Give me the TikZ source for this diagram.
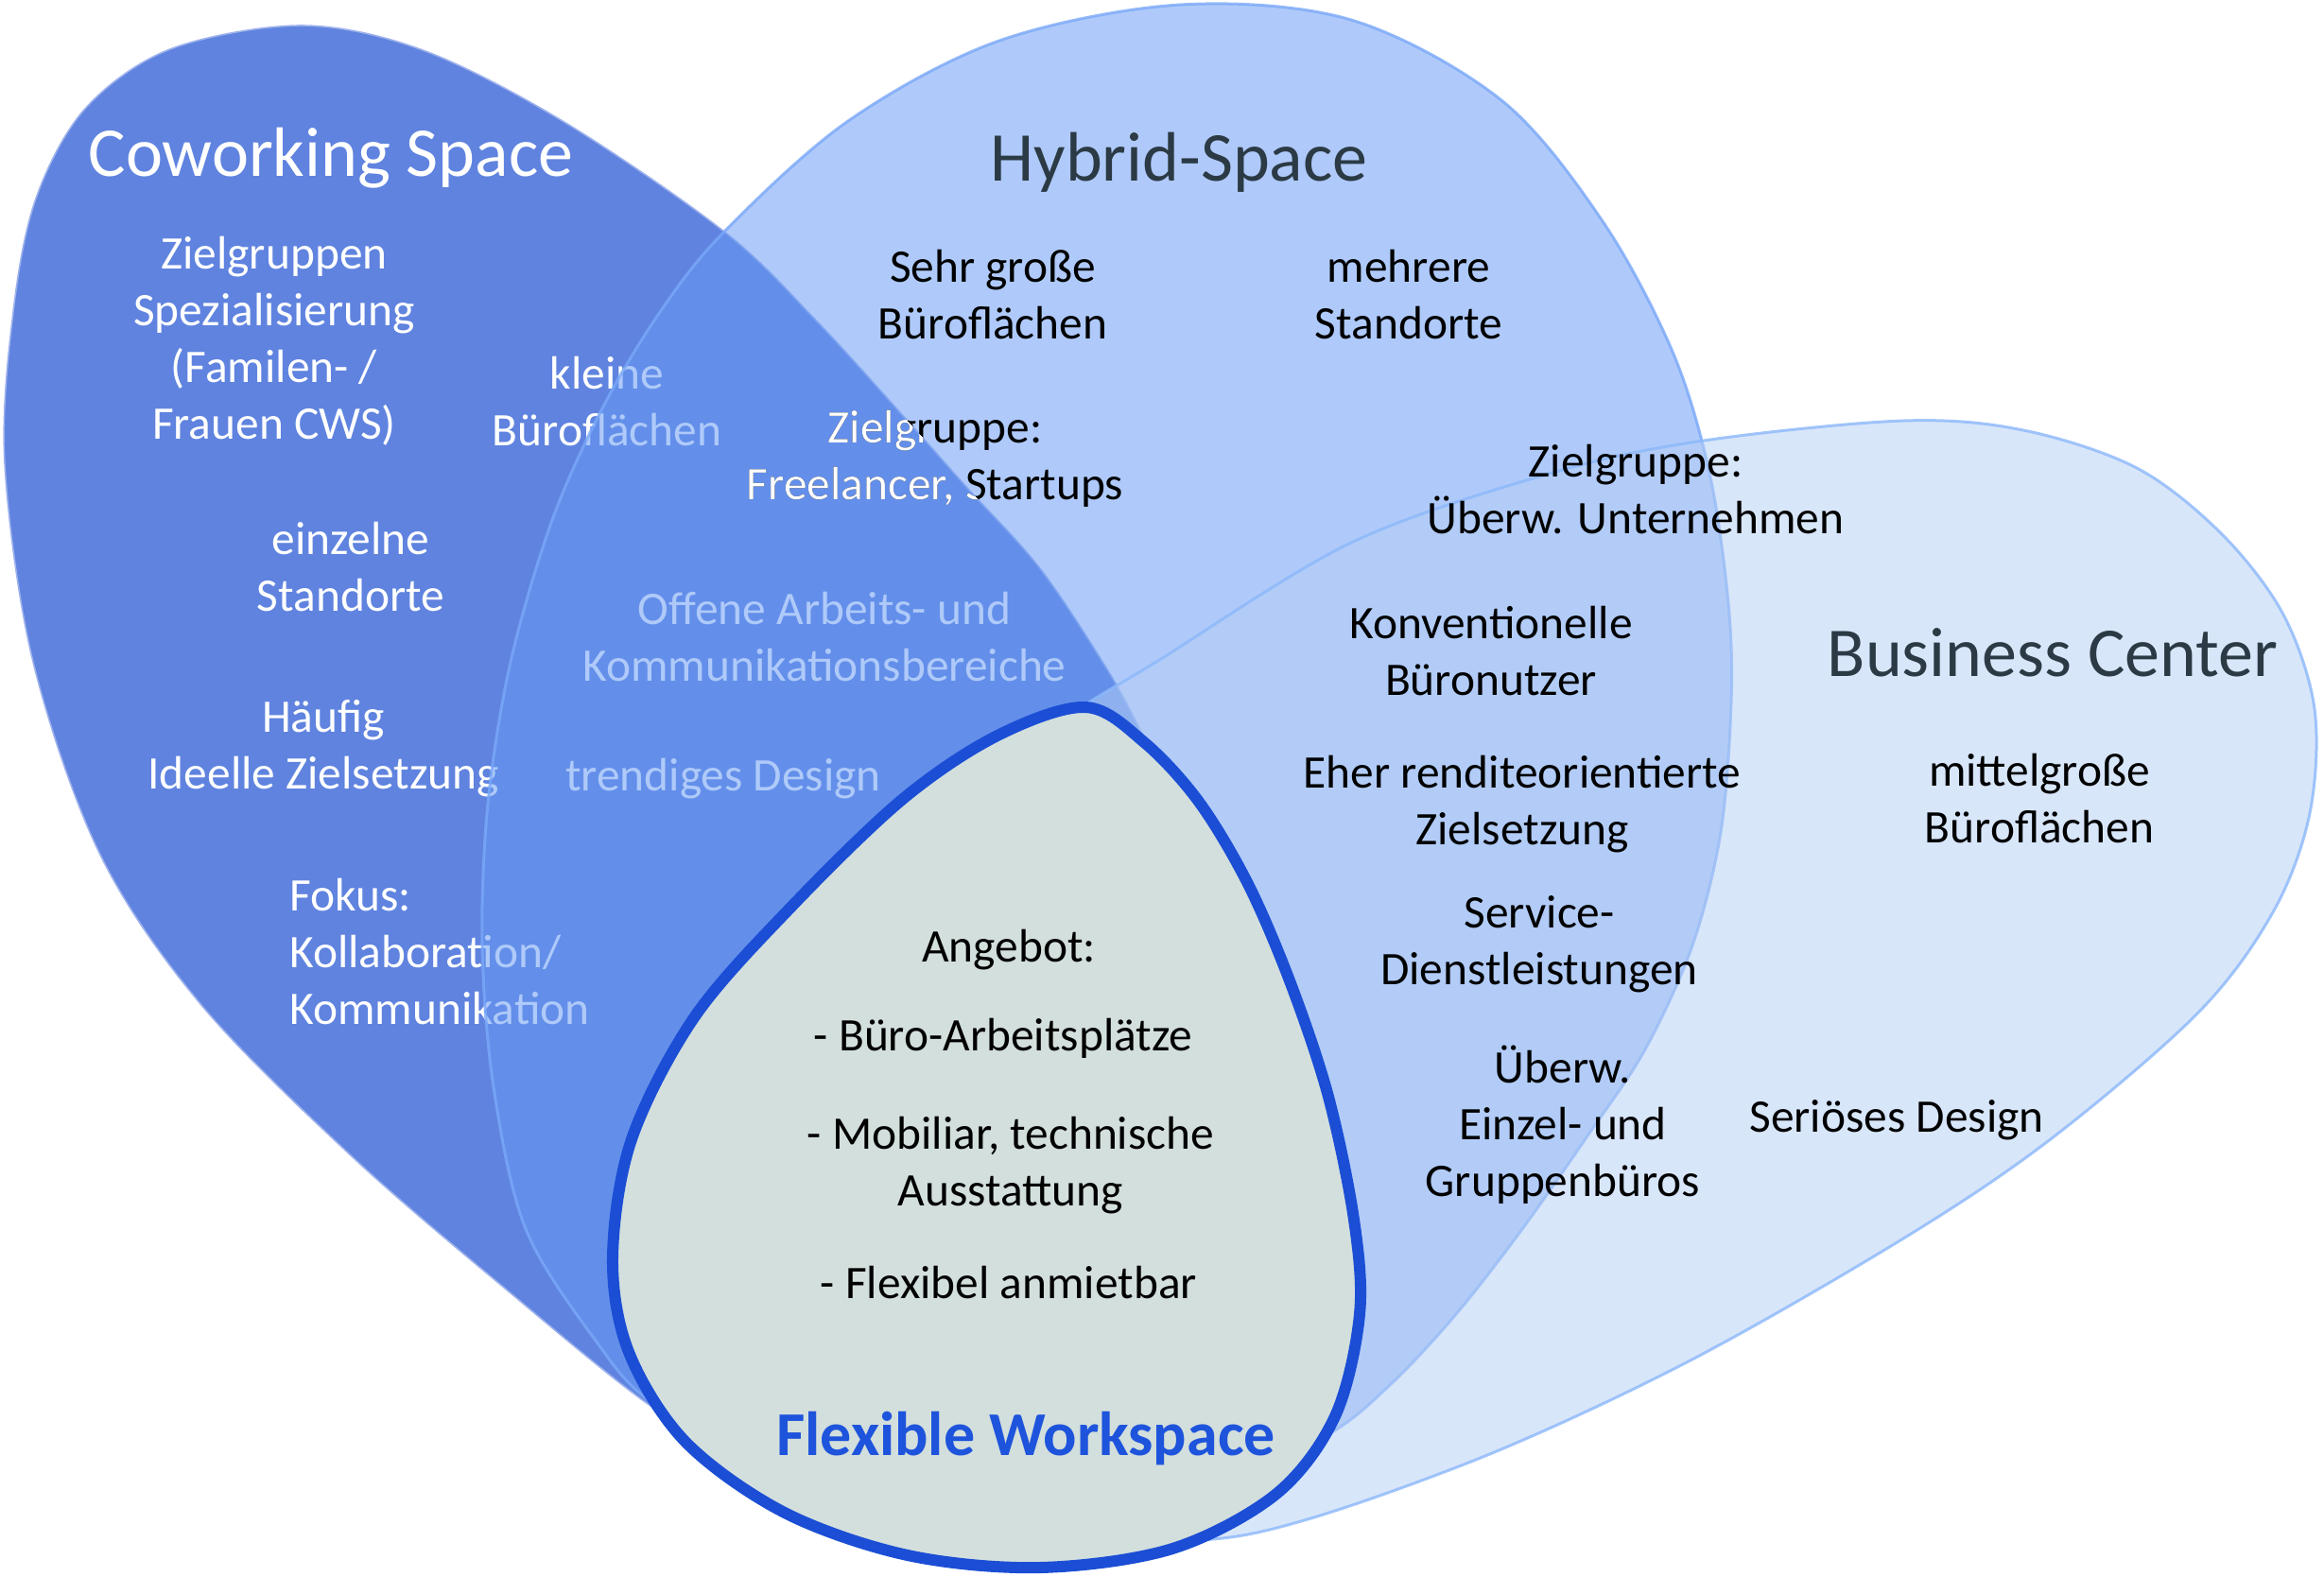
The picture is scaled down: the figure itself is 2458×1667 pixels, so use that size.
\documentclass[tikz,border=0pt]{standalone}
\usepackage{fontspec}
\setmainfont{Carlito}
\definecolor{cwfill}{HTML}{5F83DF}
\definecolor{cwline}{HTML}{9EB2EC}
\definecolor{hyfill}{HTML}{689BF5}
\definecolor{hyline}{HTML}{7AA8F8}
\definecolor{bcfill}{HTML}{B5CFF5}
\definecolor{bcline}{HTML}{8CB8FA}
\definecolor{fxfill}{HTML}{D3DFDD}
\definecolor{fxline}{HTML}{1B4ED5}
\definecolor{titledark}{HTML}{2B3A44}
\definecolor{fxtext}{HTML}{1E54DC}
\begin{document}
\def\cwpath{plot[smooth cycle, tension=0.55] coordinates {(106,904) (35,700) (5,490) (14,330) (38,210) (90,115) (180,52) (319,27) (447,53) (595,128) (766,245) (866,342) (966,452) (1022,515) (1099,600) (1166,700) (1205,770) (1265,900) (1290,1100) (1250,1330) (1120,1500) (950,1570) (800,1545) (691,1489) (532,1361) (372,1223) (213,1063)}}
\def\hypath{plot[smooth cycle, tension=0.55] coordinates {(766,245) (698,330) (638,430) (584,550) (540,700) (516,850) (510,1000) (522,1150) (556,1300) (630,1418) (693,1487) (850,1585) (1050,1620) (1250,1590) (1400,1520) (1470,1465) (1540,1390) (1610,1300) (1680,1200) (1740,1110) (1790,1000) (1820,880) (1831,744) (1828,638) (1808,500) (1769,372) (1695,234) (1588,106) (1429,21) (1248,5) (1057,43) (897,128)}}
\def\bcpath{plot[smooth cycle, tension=0.55] coordinates {(1153,742) (1223,700) (1429,574) (1642,500) (1802,466) (2013,445) (2140,455) (2260,495) (2350,565) (2415,650) (2448,750) (2443,860) (2405,963) (2326,1070) (2170,1204) (2013,1310) (1778,1444) (1543,1551) (1308,1625) (1150,1610) (1000,1500) (930,1300) (930,1050) (1000,870) (1080,790)}}
\def\fxpath{plot[smooth cycle, tension=0.55] coordinates {(1148,748) (1210,785) (1268,848) (1320,935) (1365,1040) (1405,1160) (1432,1290) (1438,1390) (1412,1498) (1350,1580) (1240,1638) (1100,1658) (960,1645) (830,1600) (725,1525) (665,1430) (648,1330) (668,1205) (735,1075) (838,958) (955,845) (1055,778)}}
\begin{tikzpicture}[x=0.5pt,y=-0.5pt,
  txt/.style={inner sep=0pt, align=center, font=\fontsize{24.7}{30}\selectfont},
  ttl/.style={inner sep=0pt, font=\fontsize{37}{44}\selectfont},
  cwtxt/.style={txt, text=white},
  bktxt/.style={txt, text=black}]
\useasboundingbox (0,0) rectangle (2458,1667);
% Coworking space (opaque)
\fill[cwfill] \cwpath;
\draw[cwline, line width=0.8pt] \cwpath;
% white texts (below the hybrid overlay)
\node[ttl, text=white] (cwtitle) at (350,167) {Coworking Space};
\node[cwtxt] (cw1) at (290,361) {Zielgruppen\\Spezialisierung\\(Familen- /\\Frauen CWS)};
\node[cwtxt] (cw2) at (642,425) {kleine\\Büroflächen};
\node[cwtxt] (cw3) at (371,600) {einzelne\\Standorte};
\node[cwtxt] (cw4) at (342,792) {Häufig\\Ideelle Zielsetzung};
\node[cwtxt, align=left, anchor=west] (cw5) at (306,1007) {Fokus:\\Kollaboration/\\Kommunikation};
\node[cwtxt] (ov1) at (872,674) {Offene Arbeits- und\\Kommunikationsbereiche};
\node[cwtxt] (ov2) at (765,824) {trendiges Design};
% Hybrid space (semi-transparent)
\fill[hyfill, fill opacity=0.53] \hypath;
\draw[hyline, draw opacity=0.8, line width=1.5pt] \hypath;
% Business center (semi-transparent)
\fill[bcfill, fill opacity=0.53] \bcpath;
\draw[bcline, draw opacity=0.8, line width=1.5pt] \bcpath;
% dark texts
\node[ttl, text=titledark] (hytitle) at (1247,172) {Hybrid-Space};
\node[ttl, text=titledark] (bctitle) at (2171,690) {Business Center};
\node[bktxt] (hy1) at (1050,312) {Sehr große\\Büroflächen};
\node[bktxt] (hy2) at (1490,312) {mehrere\\Standorte};
\node[bktxt] (hy3) at (989,485) {Zielgruppe:\\Freelancer, Startups};
\begin{scope}
\clip \cwpath;
\node[cwtxt] (hy3w) at (989,485) {Zielgruppe:\\Freelancer, Startups};
\end{scope}
\node[bktxt] (hy4) at (1730,518) {Zielgruppe:\\Überw. Unternehmen};
\node[bktxt] (hy5) at (1577,689) {Konventionelle\\Büronutzer};
\node[bktxt] (hy6) at (1610,851) {Eher renditeorientierte\\Zielsetzung};
\node[bktxt] (hy7) at (1628,999) {Service-\\Dienstleistungen};
\node[bktxt] (hy8) at (1653,1190) {Überw.\\Einzel- und\\Gruppenbüros};
\node[bktxt] (bc1) at (2157,845) {mittelgroße\\Büroflächen};
\node[bktxt] (bc2) at (2006,1185) {Seriöses Design};
% Flexible workspace
\filldraw[fill=fxfill, draw=fxline, line width=6pt] \fxpath;
\node[bktxt] (fx1) at (1067,1005) {Angebot:};
\node[bktxt] (fx2) at (1061,1098) {- Büro-Arbeitsplätze};
\node[bktxt] (fx3) at (1069,1233) {- Mobiliar, technische\\Ausstattung};
\node[bktxt] (fx4) at (1067,1357) {- Flexibel anmietbar};
\node[inner sep=0pt, text=fxtext, font=\fontsize{33}{40}\selectfont\bfseries] (fxtitle) at (1085,1522) {Flexible Workspace};
\end{tikzpicture}
\end{document}
